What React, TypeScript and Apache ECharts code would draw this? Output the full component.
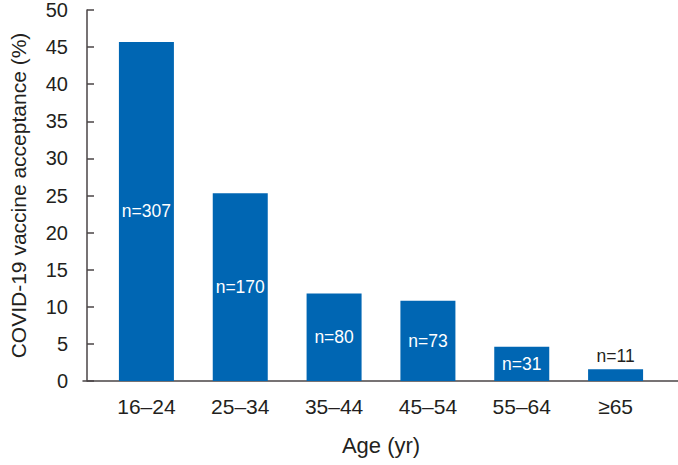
import React, { useEffect, useRef } from "react";
import * as echarts from "echarts";

const categories = ["16–24", "25–34", "35–44", "45–54", "55–64", "≥65"];
const acceptance = [45.7, 25.3, 11.8, 10.8, 4.6, 1.6];
const sampleSizes = [307, 170, 80, 73, 31, 11];
const outsideLabel = [false, false, false, false, false, true];

const FONT = "'Liberation Sans', Arial, sans-serif";
const TEXT = "#231f20";
const AXIS = "#4a4446";
const BLUE = "#0066b3";

export default function App() {
  const ref = useRef<HTMLDivElement>(null);
  useEffect(() => {
    if (!ref.current) return;
    const chart = echarts.init(ref.current, undefined, { renderer: "svg" });
    const data = acceptance.map((v, i) => ({
      value: v,
      label: outsideLabel[i]
        ? { position: "top", color: TEXT, distance: 4 }
        : { position: "inside", color: "#ffffff" },
    }));
    chart.setOption({
      animation: false,
      grid: [
        { left: 95.5, right: 15.5, top: 8, bottom: 84 },
        { left: 83, right: 0, top: 8, bottom: 84 },
      ],
      xAxis: [
        {
          type: "category",
          gridIndex: 0,
          data: categories,
          axisLine: { show: false },
          axisTick: { show: false },
          axisLabel: { color: TEXT, fontSize: 21, fontFamily: FONT, margin: 15 },
          name: "Age (yr)",
          nameLocation: "middle",
          nameGap: 53,
          nameTextStyle: { color: TEXT, fontSize: 22, fontFamily: FONT },
        },
        {
          type: "category",
          gridIndex: 1,
          data: [""],
          axisLine: { show: true, lineStyle: { color: AXIS, width: 1.5 } },
          axisTick: { show: false },
          axisLabel: { show: false },
        },
      ],
      yAxis: [
        {
          type: "value",
          gridIndex: 0,
          min: 0,
          max: 50,
          interval: 5,
          offset: 12.5,
          axisLine: { show: true, lineStyle: { color: AXIS, width: 1.5 } },
          axisTick: { show: true, inside: true, length: 7, lineStyle: { color: AXIS, width: 1.5 } },
          splitLine: { show: false },
          axisLabel: { color: TEXT, fontSize: 20, fontFamily: FONT, margin: 19 },
          name: "COVID-19 vaccine acceptance (%)",
          nameLocation: "middle",
          nameRotate: 90,
          nameGap: 58,
          nameTextStyle: { color: TEXT, fontSize: 21, fontFamily: FONT },
        },
        {
          type: "value",
          gridIndex: 1,
          show: false,
          min: 0,
          max: 50,
        },
      ],
      series: [
        {
          type: "bar",
          xAxisIndex: 0,
          yAxisIndex: 0,
          data,
          barWidth: 55,
          itemStyle: { color: BLUE },
          label: {
            show: true,
            fontSize: 17.5,
            fontFamily: FONT,
            formatter: (p: any) => "n=" + sampleSizes[p.dataIndex],
          },
        },
      ],
    });
    return () => chart.dispose();
  }, []);
  return <div ref={ref} style={{ width: 678, height: 465, position: "absolute", left: 0, top: 0 }} />;
}
